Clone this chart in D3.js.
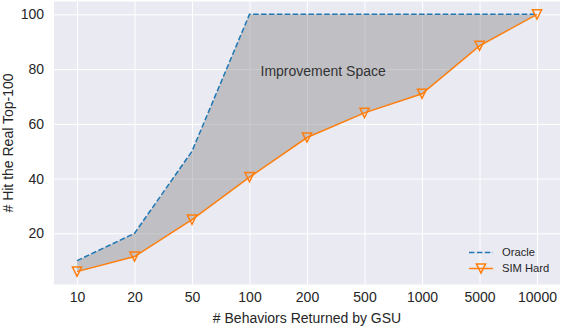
<!DOCTYPE html>
<html>
<head>
<meta charset="utf-8">
<script src="https://cdn.jsdelivr.net/npm/d3@7"></script>
<style>
  body { margin: 0; background: #fff; }
  svg { display: block; font-family: "Liberation Sans", Arial, sans-serif; }
</style>
</head>
<body>
<svg id="chart"></svg>
<script>
// data
const categories = ["10", "20", "50", "100", "200", "500", "1000", "5000", "10000"];
const oracleValues = [10, 20, 50, 100, 100, 100, 100, 100, 100];
const simHardValues = [6, 11.5, 25, 40.5, 55, 64, 71, 88.5, 100];
const yTicks = [20, 40, 60, 80, 100];
const seriesNames = ["Oracle", "SIM Hard"];
const annotationText = "Improvement Space";

class LineChart {
    constructor(_config) {
        this.config = {
            parentElement: _config.parentElement,
            containerWidth: 562,
            containerHeight: 326,
            margin: {top: 1.5, right: 2, bottom: 41.5, left: 54}
        }
        this.initVis();
    }

    initVis() {
        let vis = this;

        vis.config.width = vis.config.containerWidth - vis.config.margin.left - vis.config.margin.right;
        vis.config.height = vis.config.containerHeight - vis.config.margin.top - vis.config.margin.bottom;

        vis.svg = d3.select(vis.config.parentElement)
            .attr('width', vis.config.containerWidth)
            .attr('height', vis.config.containerHeight);

        vis.chart = vis.svg.append('g')
            .attr('transform', `translate(${vis.config.margin.left},${vis.config.margin.top})`);

        // matplotlib style 5% margins
        vis.xScale = d3.scalePoint()
            .domain(categories)
            .range([0, vis.config.width])
            .padding(0.4);

        let allVals = oracleValues.concat(simHardValues);
        let lo = d3.min(allVals), hi = d3.max(allVals), pad = (hi - lo) * 0.05;
        vis.yScale = d3.scaleLinear()
            .domain([lo - pad, hi + pad])
            .range([vis.config.height, 0]);

        vis.renderVis();
    }

    renderVis() {
        let vis = this;
        const w = vis.config.width, h = vis.config.height;

        // background
        vis.chart.append('rect')
            .attr('width', w)
            .attr('height', h)
            .attr('fill', '#EAEAF2');

        // gridlines
        vis.chart.append('g')
            .attr('transform', `translate(0,${h})`)
            .call(d3.axisBottom(vis.xScale).tickSize(-h).tickPadding(8))
            .call(g => g.select('.domain').remove())
            .call(g => g.selectAll('.tick line').attr('stroke', '#fff').attr('stroke-width', 1))
            .call(g => g.selectAll('.tick text')
                .attr('fill', '#262626').attr('font-size', 14)
                .attr('font-family', '"Liberation Sans", Arial, sans-serif'));

        vis.chart.append('g')
            .call(d3.axisLeft(vis.yScale).tickValues(yTicks).tickSize(-w).tickPadding(10))
            .call(g => g.select('.domain').remove())
            .call(g => g.selectAll('.tick line').attr('stroke', '#fff').attr('stroke-width', 1))
            .call(g => g.selectAll('.tick text')
                .attr('fill', '#262626').attr('font-size', 14)
                .attr('font-family', '"Liberation Sans", Arial, sans-serif'));

        // area between the two lines
        let rows = categories.map((c, i) => ({c: c, o: oracleValues[i], s: simHardValues[i]}));
        let area = d3.area()
            .x(d => vis.xScale(d.c))
            .y0(d => vis.yScale(d.s))
            .y1(d => vis.yScale(d.o));
        vis.chart.append('path')
            .datum(rows)
            .attr('d', area)
            .attr('fill', '#808080')
            .attr('fill-opacity', 0.4);

        let line = d3.line()
            .x((d, i) => vis.xScale(categories[i]))
            .y(d => vis.yScale(d));

        vis.chart.append('path')
            .datum(oracleValues)
            .attr('d', line)
            .attr('fill', 'none')
            .attr('stroke', '#1f77b4')
            .attr('stroke-width', 1.5)
            .attr('stroke-dasharray', '5.5,2.4');

        vis.chart.append('path')
            .datum(simHardValues)
            .attr('d', line)
            .attr('fill', 'none')
            .attr('stroke', '#ff7f0e')
            .attr('stroke-width', 1.5);

        const tri = r => `M${-r},${-r}L${r},${-r}L0,${r}Z`;
        vis.chart.selectAll('.marker')
            .data(simHardValues)
            .join('path')
            .attr('class', 'marker')
            .attr('transform', (d, i) => `translate(${vis.xScale(categories[i])},${vis.yScale(d)})`)
            .attr('d', tri(4.6))
            .attr('fill', 'none')
            .attr('stroke', '#ff7f0e')
            .attr('stroke-width', 1.5);

        // annotation
        vis.chart.append('text')
            .attr('x', vis.xScale('100') + 11)
            .attr('y', vis.yScale(77.6))
            .attr('fill', '#333')
            .attr('font-size', 14)
            .text(annotationText);

        // legend
        let legend = vis.chart.append('g')
            .attr('transform', `translate(${w - 91},${h - 32})`);
        seriesNames.forEach((name, i) => {
            let g = legend.append('g').attr('transform', `translate(0,${i * 16})`);
            g.append('line')
                .attr('x1', 0).attr('x2', 24)
                .attr('stroke', i === 0 ? '#1f77b4' : '#ff7f0e')
                .attr('stroke-width', 1.5)
                .attr('stroke-dasharray', i === 0 ? '5.5,2.4' : null);
            if (i === 1) {
                g.append('path')
                    .attr('transform', 'translate(12,0)')
                    .attr('d', tri(4.6))
                    .attr('fill', 'none')
                    .attr('stroke', '#ff7f0e')
                    .attr('stroke-width', 1.5);
            }
            g.append('text')
                .attr('x', 33)
                .attr('dy', '0.35em')
                .attr('fill', '#262626')
                .attr('font-size', 11.2)
                .text(name);
        });

        // axis titles
        vis.svg.append('text')
            .attr('x', vis.config.margin.left + w / 2)
            .attr('y', 323)
            .attr('text-anchor', 'middle')
            .attr('fill', '#262626')
            .attr('font-size', 14)
            .text('# Behaviors Returned by GSU');

        vis.svg.append('text')
            .attr('transform', `translate(13,${vis.config.margin.top + h / 2}) rotate(-90)`)
            .attr('text-anchor', 'middle')
            .attr('fill', '#262626')
            .attr('font-size', 14)
            .text('# Hit the Real Top-100');
    }
}

new LineChart({parentElement: '#chart'});
</script>
</body>
</html>
